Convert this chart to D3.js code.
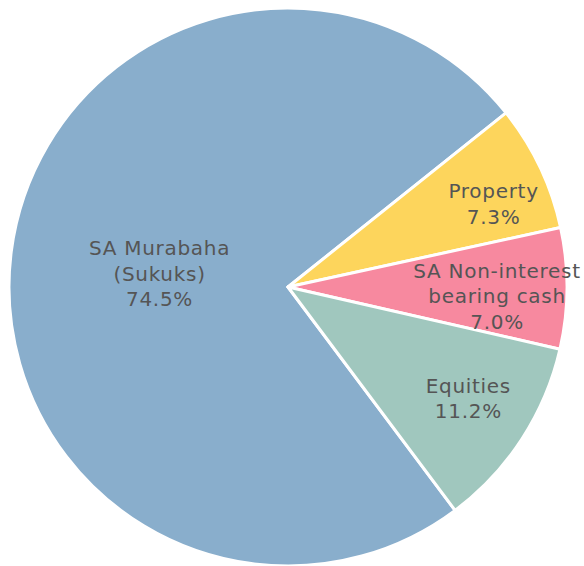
<!DOCTYPE html>
<html><head><meta charset="utf-8">
<script src="https://cdn.jsdelivr.net/npm/d3@7"></script>
<style>html,body{margin:0;padding:0;background:#fff;}</style>
</head><body>
<svg id="chart" width="584" height="566"></svg>
<script>
const categories = ["SA Murabaha (Sukuks)", "Property", "SA Non-interest bearing cash", "Equities"];
const labelLines = [["SA Murabaha", "(Sukuks)"], ["Property"], ["SA Non-interest", "bearing cash"], ["Equities"]];
const values = [74.5, 7.3, 7.0, 11.2];
const colors = ["#89aecc", "#fdd55c", "#f7899f", "#a0c7be"];

const W = 584, H = 566;
const cx = 288, cy = 287, R = 279;
const startDeg = 143.2;
// label placement (fraction of radius, angular nudge in degrees)
const labelRadius = [0.463, 0.795, 0.75, 0.76];
const labelNudge = [-1.3, 3.4, 2.2, -1.3];

const svg = d3.select("#chart");
const g = svg.append("g").attr("transform", `translate(${cx},${cy})`);

const pie = d3.pie().sort(null).value(d => d)
  .startAngle(startDeg * Math.PI / 180)
  .endAngle((startDeg + 360) * Math.PI / 180);
const arcs = pie(values);
const arc = d3.arc().innerRadius(0).outerRadius(R);

g.selectAll("path").data(arcs).join("path")
  .attr("d", arc)
  .attr("fill", (d, i) => colors[i])
  .attr("stroke", "#fff")
  .attr("stroke-width", 3)
  .attr("stroke-linejoin", "round");

const fontSize = 20, lineH = 25.5;
arcs.forEach((a, i) => {
  const mid = (a.startAngle + a.endAngle) / 2 + labelNudge[i] * Math.PI / 180;
  const x = Math.sin(mid) * R * labelRadius[i];
  const y = -Math.cos(mid) * R * labelRadius[i];
  const lines = labelLines[i].concat([d3.format(".1f")(values[i]) + "%"]);
  const t = g.append("text")
    .attr("text-anchor", "middle")
    .attr("font-family", "'DejaVu Sans', Verdana, sans-serif")
    .attr("font-size", fontSize)
    .attr("letter-spacing", "0.7px")
    .attr("fill", "#555555");
  const y0 = y - (lines.length - 1) * lineH / 2;
  lines.forEach((l, k) => {
    t.append("tspan").attr("x", x).attr("y", y0 + k * lineH).attr("dy", "0.36em").text(l);
  });
});
</script>
</body></html>
